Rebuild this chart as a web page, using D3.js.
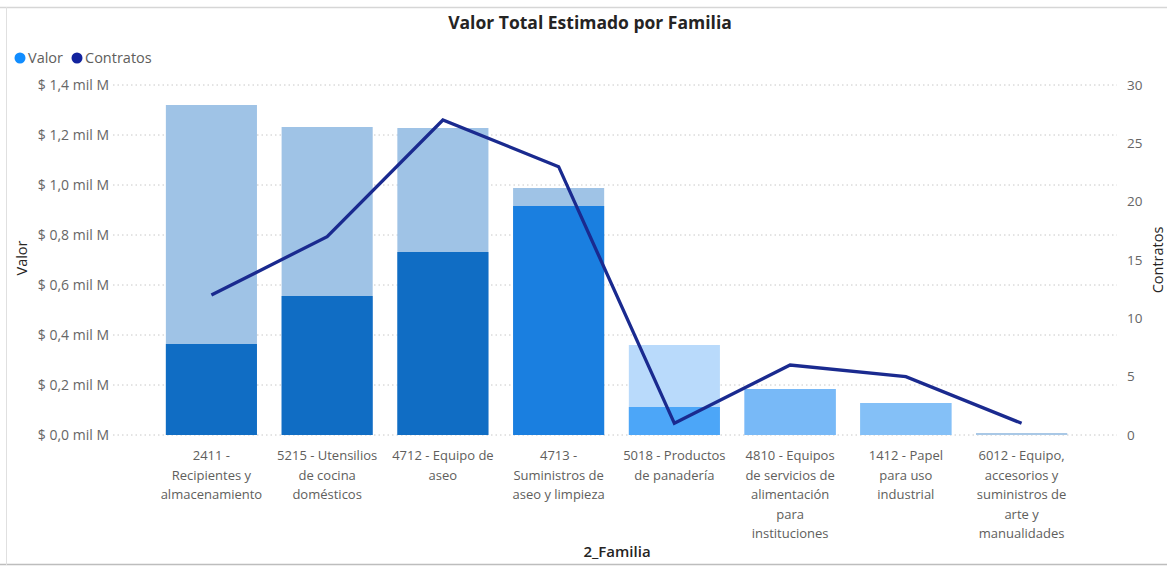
<!DOCTYPE html>
<html>
<head>
<meta charset="utf-8">
<script src="https://cdn.jsdelivr.net/npm/d3@7"></script>
<style>
  html, body { margin: 0; padding: 0; background: #fff; }
  svg { display: block; font-family: "Open Sans", "Noto Sans", sans-serif; }
</style>
</head>
<body>
<svg id="chart" width="1167" height="567"></svg>
<script>
// ---- data ----
const categories = [
  "2411 -\nRecipientes y\nalmacenamiento",
  "5215 - Utensilios\nde cocina\ndomésticos",
  "4712 - Equipo de\naseo",
  "4713 -\nSuministros de\naseo y limpieza",
  "5018 - Productos\nde panadería",
  "4810 - Equipos\nde servicios de\nalimentación\npara\ninstituciones",
  "1412 - Papel\npara uso\nindustrial",
  "6012 - Equipo,\naccesorios y\nsuministros de\narte y\nmanualidades"
];
// total estimated value (mil M) and inner (darker) portion
const valorTotal = [1.32, 1.232, 1.228, 0.988, 0.36, 0.184, 0.128, 0.008];
const valorParte = [0.364, 0.556, 0.732, 0.916, 0.112, 0.184, 0.128, 0.008];
const contratos  = [12, 17, 27, 23, 1, 6, 5, 1];
const valorTicks = [0, 0.2, 0.4, 0.6, 0.8, 1.0, 1.2, 1.4];
const contratosTicks = [0, 5, 10, 15, 20, 25, 30];
// per-bar colours (light = total, dark = portion)
const lightColors = ["#9fc3e6", "#9fc3e6", "#9fc3e6", "#9fc3e6", "#b9dafb", "#78b9f7", "#84c0f7", "#a9c8e6"];
const darkColors  = ["#106dc4", "#106dc4", "#106dc4", "#1a7fe0", "#4ca6f8", "#78b9f7", "#84c0f7", "#a9c8e6"];

// ---- layout ----
const svg = d3.select("#chart");
const plotTop = 85, plotBottom = 435;
const gridLeft = 113, gridRight = 1117;

const x = d3.scaleBand().domain(d3.range(categories.length))
  .range([153.6, 1079.4]).paddingInner(0.213).paddingOuter(0.106);
const yL = d3.scaleLinear().domain([0, 1.4]).range([plotBottom, plotTop]);
const yR = d3.scaleLinear().domain([0, 30]).range([plotBottom, plotTop]);

// frame lines
svg.append("line").attr("x1", 0).attr("x2", 1167).attr("y1", 7.5).attr("y2", 7.5)
  .attr("stroke", "#d6d6d6").attr("stroke-width", 1.5);
svg.append("line").attr("x1", 0).attr("x2", 1167).attr("y1", 564.5).attr("y2", 564.5)
  .attr("stroke", "#bdbdbd").attr("stroke-width", 1.5);
svg.append("line").attr("x1", 6.5).attr("x2", 6.5).attr("y1", 7).attr("y2", 565)
  .attr("stroke", "#e0e0e0").attr("stroke-width", 1);

// title
svg.append("text").attr("x", 590).attr("y", 29).attr("text-anchor", "middle")
  .attr("font-size", 17.5).attr("font-weight", 700).attr("fill", "#252423")
  .text("Valor Total Estimado por Familia");

// legend
const legend = svg.append("g").attr("font-size", 14.5).attr("fill", "#605e5c");
legend.append("circle").attr("cx", 20).attr("cy", 58).attr("r", 5.5).attr("fill", "#118dff");
legend.append("text").attr("x", 28).attr("y", 63).text("Valor");
legend.append("circle").attr("cx", 77).attr("cy", 58).attr("r", 5.5).attr("fill", "#12239e");
legend.append("text").attr("x", 85).attr("y", 63).text("Contratos");

// gridlines
svg.append("g").selectAll("line").data(valorTicks).join("line")
  .attr("x1", gridLeft).attr("x2", gridRight)
  .attr("y1", d => yL(d)).attr("y2", d => yL(d))
  .attr("stroke", "#c8c8c8").attr("stroke-width", 1).attr("stroke-dasharray", "1.5,3");

// left axis
const fmt = d => "$ " + d.toFixed(1).replace(".", ",") + " mil M";
const axL = svg.append("g").attr("transform", `translate(109,0)`)
  .call(d3.axisLeft(yL).tickValues(valorTicks).tickFormat(fmt).tickSize(0).tickPadding(0));
axL.select(".domain").remove();
axL.selectAll("text").attr("font-size", 14).attr("fill", "#666666")
  .attr("font-family", "'Open Sans', sans-serif");

// right axis
const axR = svg.append("g").attr("transform", `translate(1127,0)`)
  .call(d3.axisRight(yR).tickValues(contratosTicks).tickSize(0).tickPadding(0));
axR.select(".domain").remove();
axR.selectAll("text").attr("font-size", 13.5).attr("fill", "#666666")
  .attr("font-family", "'Open Sans', sans-serif");

// axis titles
svg.append("text").attr("transform", "translate(27,258) rotate(-90)")
  .attr("text-anchor", "middle").attr("font-size", 14.5).attr("fill", "#252423").text("Valor");
svg.append("text").attr("transform", "translate(1163,260) rotate(-90)")
  .attr("text-anchor", "middle").attr("font-size", 14.5).attr("fill", "#252423").text("Contratos");

// bars
const bars = svg.append("g");
bars.selectAll("rect.total").data(valorTotal).join("rect").attr("class", "total")
  .attr("x", (d, i) => x(i)).attr("width", x.bandwidth())
  .attr("y", d => yL(d)).attr("height", d => yL(0) - yL(d))
  .attr("fill", (d, i) => lightColors[i]);
bars.selectAll("rect.part").data(valorParte).join("rect").attr("class", "part")
  .attr("x", (d, i) => x(i)).attr("width", x.bandwidth())
  .attr("y", d => yL(d)).attr("height", d => yL(0) - yL(d))
  .attr("fill", (d, i) => darkColors[i]);

// line
const line = d3.line().x((d, i) => x(i) + x.bandwidth() / 2).y(d => yR(d));
svg.append("path").datum(contratos).attr("d", line)
  .attr("fill", "none").attr("stroke", "#1a2a8f").attr("stroke-width", 3.3)
  .attr("stroke-linejoin", "miter");

// x labels
const xl = svg.append("g").attr("font-size", 13).attr("fill", "#605e5c").attr("text-anchor", "middle");
categories.forEach((c, i) => {
  const t = xl.append("text").attr("x", x(i) + x.bandwidth() / 2).attr("y", 460);
  c.split("\n").forEach((ln, j) => {
    t.append("tspan").attr("x", x(i) + x.bandwidth() / 2).attr("dy", j === 0 ? 0 : 19.5).text(ln);
  });
});

svg.append("text").attr("x", 617).attr("y", 557).attr("text-anchor", "middle")
  .attr("font-size", 15).attr("font-weight", 600).attr("fill", "#252423").text("2_Familia");
</script>
</body>
</html>
